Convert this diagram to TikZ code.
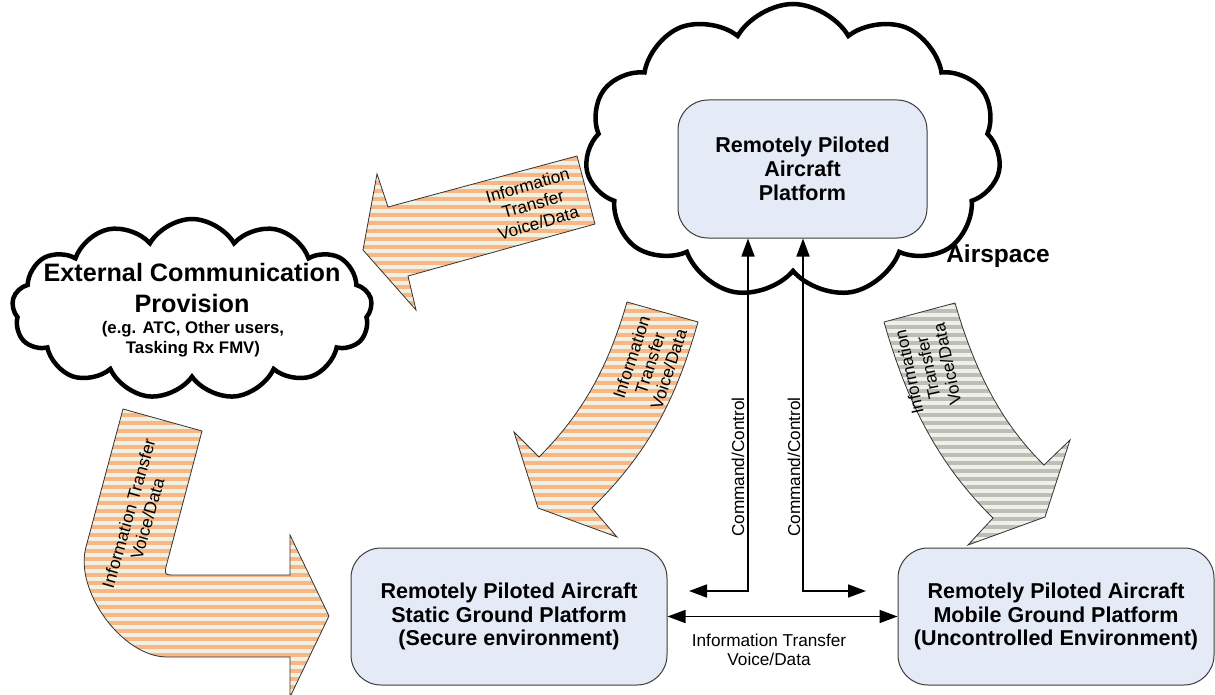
\documentclass[tikz,border=0pt]{standalone}
\usepackage{fontspec}
\setmainfont{Liberation Sans}
\usepackage{xcolor}
\definecolor{boxfill}{HTML}{E4EBF7}
\definecolor{boxline}{HTML}{3C3C3C}
\definecolor{peach}{HTML}{F9B584}
\definecolor{creme}{HTML}{EFF1E3}
\definecolor{grisraye}{HTML}{BDBDBD}
\usetikzlibrary{positioning,arrows.meta,shapes.symbols,patterns.meta}

\begin{document}
\begin{tikzpicture}[x=1pt,y=-1pt,
  platform/.style={draw=boxline,fill=boxfill,line width=1pt,rounded corners=30pt,
    align=center,font=\fontsize{21.5}{23.8}\selectfont\bfseries},
  sky/.style={cloud,cloud ignores aspect,cloud puff arc=120,draw,line width=4.5pt,
    fill=white,inner sep=0pt},
  flux/.style={draw=black!80,line width=0.8pt,preaction={fill=creme},
    pattern={Lines[angle=0,distance=8pt,line width=4.2pt]},pattern color=peach},
  fluxgris/.style={flux,pattern color=grisraye},
  note/.style={font=\fontsize{17.2}{19.5}\selectfont,align=center,inner sep=0pt},
  cmd/.style={{Triangle[length=18pt,width=13pt]}-{Triangle[length=18pt,width=13pt]},line width=1.6pt}]
\useasboundingbox (0,0) rectangle (1215,695);
% fleches d'information (sous les nuages)
\path[flux] (577,156) -- (595,224) -- (408,276) -- (416,310) -- (363,250)
  -- (377,174) -- (388,207) -- cycle;
\path[flux] (627,302) -- (698,322) .. controls (676,399) and (649,452) .. (592,508)
  -- (617,537) -- (538,508) -- (514,432) -- (539,457)
  .. controls (585,411) and (609,364) .. (627,302) -- cycle;
\path[fluxgris] (955,303) -- (884,322) .. controls (906,399) and (936,462) .. (993,518)
  -- (968,545) -- (1045,517) -- (1070,440) -- (1044,465)
  .. controls (998,420) and (973,365) .. (955,303) -- cycle;
\path[flux] (123,409) -- (202,431) -- (167,563) .. controls (164,575) .. (176,575)
  -- (290,575) -- (290,535) -- (329,616) -- (290,697) -- (290,657) -- (167,657)
  .. controls (122,657) and (74,590) .. (86,547) -- cycle;
\node[note,rotate=16] (it1) at (533,204) {Information\\Transfer\\Voice/Data};
\node[note,rotate=72] (it2) at (650,363) {Information\\Transfer\\Voice/Data};
\node[note,rotate=102] (it3) at (928,368) {Information\\Transfer\\Voice/Data};
\node[note,rotate=74] (it4) at (138,516) {Information Transfer\\Voice/Data};
% nuages
\node[sky,cloud puffs=11,minimum width=416pt,minimum height=294pt] (airspace) at (793,151) {};
\node[sky,cloud puffs=13,minimum width=360pt,minimum height=180pt] (ecp) at (192,309) {};
\node[font=\fontsize{24.5}{28}\selectfont\bfseries] (airlbl) at (998,256) {Airspace};
\node[font=\fontsize{25.2}{31}\selectfont\bfseries,align=center] (ectitle) at (192,288)
  {External Communication\\Provision};
\node[font=\fontsize{16.8}{20}\selectfont\bfseries,align=center] (ecnote) at (193,339)
  {(e.g. ATC, Other users,\\Tasking Rx FMV)};
% plateformes
\node[platform,minimum width=249pt,minimum height=138pt] (rpa) at (802.5,169)
  {Remotely Piloted\\Aircraft\\Platform};
\node[platform,minimum width=316pt,minimum height=137pt] (sgp) at (509,616.5)
  {Remotely Piloted Aircraft\\Static Ground Platform\\(Secure environment)};
\node[platform,minimum width=316pt,minimum height=137pt,right=230pt of sgp] (mgp)
  {Remotely Piloted Aircraft\\Mobile Ground Platform\\(Uncontrolled Environment)};
% commande / controle
\coordinate (cmdL) at (689,591);
\coordinate (cmdR) at (866,591);
\draw[cmd] (cmdL) -| ([xshift=-54.5pt]rpa.south);
\draw[cmd] (cmdR) -| ([xshift=0.5pt]rpa.south);
\node[note,rotate=90] (cc1) at (738,467) {Command/Control};
\node[note,rotate=90] (cc2) at (794,467) {Command/Control};
\draw[cmd] (sgp.east) -- (mgp.west);
\node[note] (itv) at (769,650) {Information Transfer\\Voice/Data};
\end{tikzpicture}
\end{document}
